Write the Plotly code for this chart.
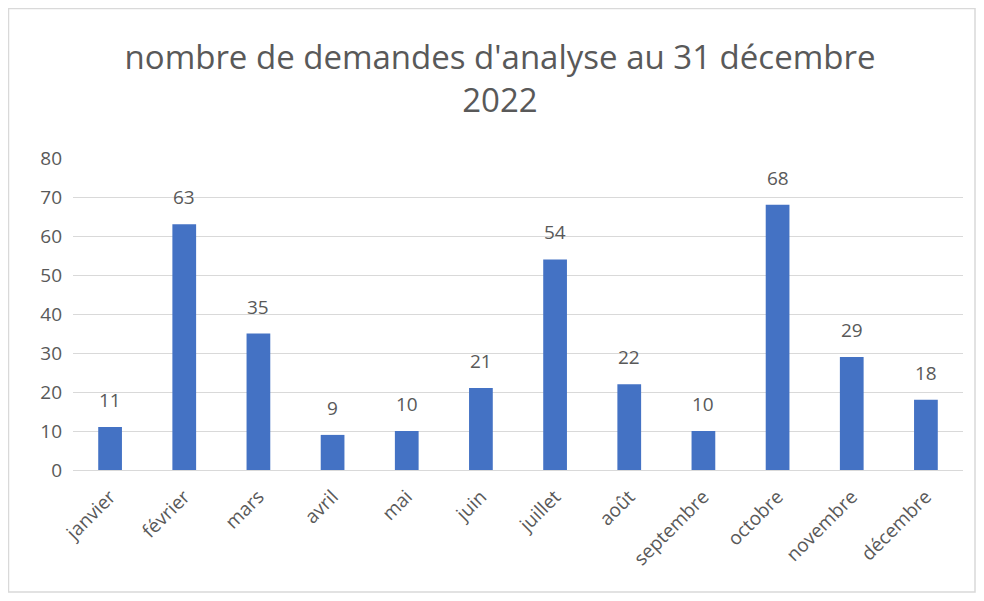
import plotly.graph_objects as go

months = ["janvier", "février", "mars", "avril", "mai", "juin", "juillet",
          "août", "septembre", "octobre", "novembre", "décembre"]
demandes = [11, 63, 35, 9, 10, 21, 54, 22, 10, 68, 29, 18]
y_ticks = [0, 10, 20, 30, 40, 50, 60, 70, 80]

FONT = "Open Sans"
GREY = "#595959"

# figure is placed 8px from the page's top-left corner (body margin)
W, H = 968, 585
L, R, T, B = 65, 13, 150, 123
pw, ph = W - L - R, H - T - B

def px_x(p):
    return (p - L) / pw

def px_y(p):
    return (H - B - p) / ph

fig = go.Figure(go.Bar(
    x=months, y=demandes,
    marker=dict(color="#4472C4", line=dict(width=0)),
    width=0.32, hoverinfo="x+y",
))

annotations = [
    dict(x=m, y=v, xref="x", yref="y", text=str(v), showarrow=False,
         yanchor="middle", yshift=27,
         font=dict(family=FONT, size=19, color=GREY))
    for m, v in zip(months, demandes)
]

fig.update_layout(
    width=W, height=H,
    margin=dict(l=L, r=R, t=T, b=B, autoexpand=False),
    paper_bgcolor="white", plot_bgcolor="white",
    title=dict(text="nombre de demandes d'analyse au 31 décembre<br>2022",
               x=px_x(492), xref="paper", xanchor="center",
               y=1 - 61 / H, yanchor="middle",
               font=dict(family=FONT, size=33, color=GREY)),
    showlegend=False,
    annotations=annotations,
    xaxis=dict(tickangle=-45, tickfont=dict(family=FONT, size=19, color=GREY),
               showgrid=False, showline=False, ticks="", ticklabelstandoff=11),
    yaxis=dict(range=[0, 80], tickvals=y_ticks,
               tickfont=dict(family=FONT, size=19, color=GREY),
               showgrid=True, gridcolor="#D9D9D9", gridwidth=1,
               zeroline=True, zerolinecolor="#D9D9D9", zerolinewidth=1,
               showline=False, ticks="", ticklabelstandoff=10),
    shapes=[dict(type="rect", xref="paper", yref="paper",
                 x0=px_x(0.5), x1=px_x(W - 1), y0=px_y(H - 1), y1=px_y(0.5),
                 line=dict(color="#D9D9D9", width=1.5), layer="below")],
)

fig.write_html("out.html")
